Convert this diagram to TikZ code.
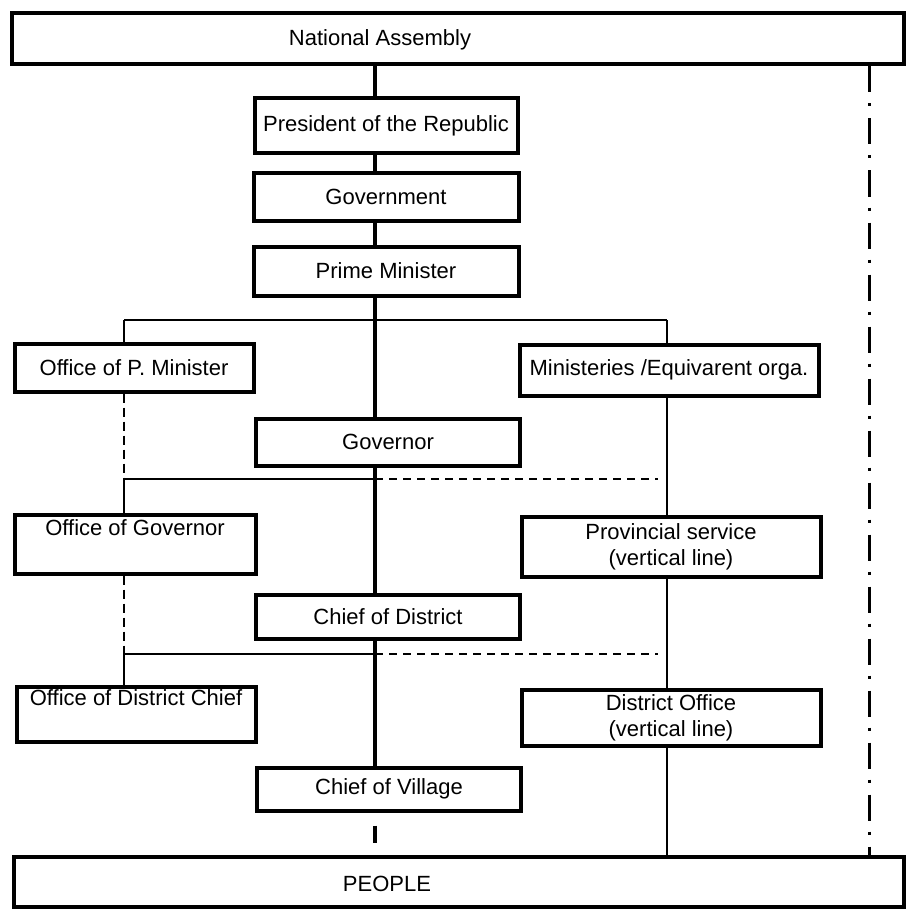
\documentclass[tikz,border=0pt]{standalone}
\usepackage{fontspec}
\setmainfont{Liberation Sans}
\usetikzlibrary{calc}
\begin{document}
\begin{tikzpicture}[x=1pt,y=-1pt,
  box/.style={draw, line width=4pt, rectangle, inner sep=0pt, align=center,
    font=\fontsize{22}{26}\selectfont},
  lbl/.style={inner sep=0pt, font=\fontsize{22}{26}\selectfont},
  mainline/.style={line width=3.4pt},
  sideline/.style={line width=2.8pt},
  thinline/.style={line width=1.5pt},
  dashv/.style={line width=2.2pt, dash pattern=on 9pt off 5pt},
  dashh/.style={line width=2pt, dash pattern=on 8pt off 6pt},
  dashdotline/.style={line width=3pt, dash pattern=on 26pt off 11pt on 3pt off 12pt}]
\useasboundingbox (0,0) rectangle (910,912);
\fill[white] (0,0) rectangle (910,912);

% central column
\node[box, minimum width=892pt, minimum height=51pt] (na) at (457.5,39) {};
\node[lbl] (natext) at (380,40) {National Assembly};
\node[box, minimum width=263pt, minimum height=55pt] (pres) at (386,126) {President of the Republic};
\node[box, minimum width=265pt, minimum height=47pt] (gov) at (386,197) {Government};
\node[box, minimum width=265pt, minimum height=49pt] (pm) at (386,271) {Prime Minister};
\node[box, minimum width=264pt, minimum height=47pt] (governor) at (388,442) {Governor};
\node[box, minimum width=264pt, minimum height=44pt] (cod) at (388,616.5) {Chief of District};
\node[box, minimum width=264pt, minimum height=43pt] (cov) at (389,789) {Chief of Village};
\node[box, minimum width=890pt, minimum height=50pt] (people) at (458.5,881.5) {};
\node[lbl] (peopletext) at (387,884) {PEOPLE};

% left column
\node[box, minimum width=239pt, minimum height=48pt] (opm) at (134,367.5) {Office of P. Minister};
\node[box, minimum width=241pt, minimum height=59pt] (og) at (135,544) {Office of Governor\\ \strut};
\node[box, minimum width=239pt, minimum height=55pt] (odc) at (136,714) {Office of District Chief\\ \strut};

% right column
\node[box, minimum width=299pt, minimum height=51pt] (mins) at (669,370) {Ministeries /Equivarent orga.};
\node[box, minimum width=299pt, minimum height=60pt] (prov) at (671,546.5) {Provincial service\\(vertical line)};
\node[box, minimum width=299pt, minimum height=56pt] (dof) at (671,717.5) {District Office\\(vertical line)};

% helper coordinates
\coordinate (cx) at (375,0);
\coordinate (lx) at (124,0);
\coordinate (rx) at (667,0);
\coordinate (h1) at (0,320);
\coordinate (h2) at (0,479);
\coordinate (h3) at (0,654);
\coordinate (dd) at (869,0);

% central connectors
\draw[mainline] (cx |- na.south) -- (cx |- pres.north);
\draw[mainline] (cx |- pres.south) -- (cx |- gov.north);
\draw[mainline] (cx |- gov.south) -- (cx |- pm.north);
\draw[mainline] (cx |- pm.south) -- (cx |- governor.north);
\draw[mainline] (cx |- governor.south) -- (cx |- cod.north);
\draw[mainline] (cx |- cod.south) -- (cx |- cov.north);
\draw[mainline] ($(cx |- cov.south)+(0,13)$) -- ($(cx |- people.north)+(0,-12)$);

% first branch
\draw[thinline] (lx |- h1) -- (rx |- h1);
\draw[sideline] (lx |- h1) -- (lx |- opm.north);
\draw[sideline] (rx |- h1) -- (rx |- mins.north);

% second level
\draw[dashv] (lx |- opm.south) -- (lx |- h2);
\draw[sideline] (lx |- h2) -- (lx |- og.north);
\draw[thinline] (lx |- h2) -- (cx |- h2);
\draw[dashh] (cx |- h2) -- ($(rx |- h2)+(-9,0)$);

% third level
\draw[dashv] (lx |- og.south) -- (lx |- h3);
\draw[sideline] (lx |- h3) -- (lx |- odc.north);
\draw[thinline] (lx |- h3) -- (cx |- h3);
\draw[dashh] (cx |- h3) -- ($(rx |- h3)+(-9,0)$);

% right vertical line
\draw[sideline] (rx |- mins.south) -- (rx |- prov.north);
\draw[thinline] (rx |- prov.south) -- (rx |- dof.north);
\draw[sideline] (rx |- dof.south) -- (rx |- people.north);

% dash-dot line
\draw[dashdotline] (dd |- na.south) -- (dd |- people.north);
\end{tikzpicture}
\end{document}
